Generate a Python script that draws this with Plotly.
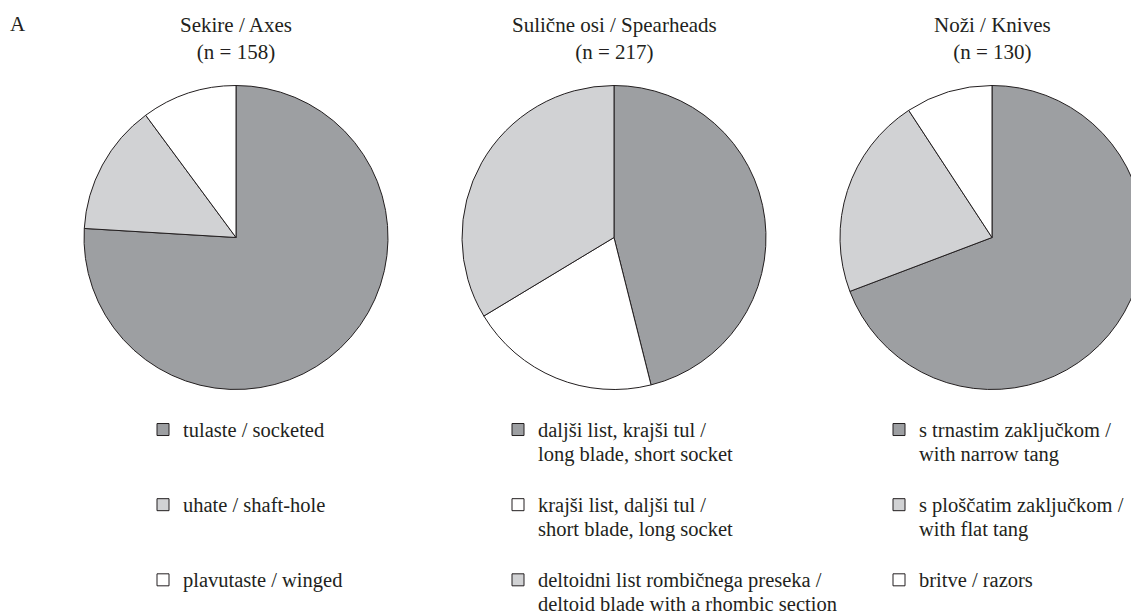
import plotly.graph_objects as go

# Counts (clockwise from 12 o'clock)
axes_labels = ["tulaste / socketed", "uhate / shaft-hole", "plavutaste / winged"]
axes_counts = [120, 22, 16]

spear_labels = [
    "daljši list, krajši tul /<br>long blade, short socket",
    "krajši list, daljši tul /<br>short blade, long socket",
    "deltoidni list rombičnega preseka /<br>deltoid blade with a rhombic section",
]
spear_counts = [100, 44, 73]

knife_labels = [
    "s trnastim zaključkom /<br>with narrow tang",
    "s ploščatim zaključkom /<br>with flat tang",
    "britve / razors",
]
knife_counts = [90, 28, 12]

titles = ["Sekire / Axes", "Sulične osi / Spearheads", "Noži / Knives"]

DARK = "#9d9fa2"
LIGHT = "#d1d2d4"
WHITE = "#ffffff"
INK = "#231f20"
FONT = "Liberation Serif"

# The figure is a bit larger than the 1131x614 window: the right-hand pie
# runs off the edge, and the legends get room below so plotly does not
# shrink the plot area to make them fit.
W, H = 1160, 660


def _legend_text(label, size=20.5, lines=3):
    # each item takes three text lines so the rows are evenly spaced
    parts = label.split("<br>")
    parts = [f"<span style='font-size:{size}px'>{p}</span>" for p in parts]
    parts += ["\u00a0"] * (lines - len(parts))
    return "<br>".join(parts)


pies = [
    (axes_labels, axes_counts, [DARK, LIGHT, WHITE], 236, 143),
    (spear_labels, spear_counts, [DARK, WHITE, LIGHT], 614, 498),
    (knife_labels, knife_counts, [DARK, LIGHT, WHITE], 992, 879),
]
R = 152
CY = 237.5
LEGEND_TOP = 411


def px_x(v):
    return v / W


def px_y(v):
    return 1 - v / H


fig = go.Figure()
layout_legends = {}
for i, (labels, counts, colors, cx, lx) in enumerate(pies):
    name = "legend" if i == 0 else f"legend{i + 1}"
    fig.add_trace(go.Pie(
        labels=[_legend_text(l) for l in labels],
        values=counts,
        sort=False,
        direction="clockwise",
        rotation=0,
        textinfo="none",
        hoverinfo="label+value+percent",
        marker=dict(colors=colors, line=dict(color=INK, width=1)),
        domain=dict(x=[px_x(cx - R), px_x(cx + R)],
                    y=[px_y(CY + R), px_y(CY - R)]),
        legend=name,
    ))
    layout_legends[name] = dict(
        x=px_x(lx), y=px_y(LEGEND_TOP), xanchor="left", yanchor="top",
        valign="top", bgcolor="rgba(0,0,0,0)",
        font=dict(family=FONT, size=18.5, color=INK),
        itemclick=False, itemdoubleclick=False,
    )
    fig.add_annotation(
        x=px_x(cx), y=px_y(38), xref="paper", yref="paper",
        text=f"{titles[i]}<br>(n = {sum(counts)})",
        showarrow=False, xanchor="center", yanchor="middle",
        font=dict(family=FONT, size=21, color=INK),
    )

fig.add_annotation(
    x=px_x(8), y=px_y(24), xref="paper", yref="paper", text="A",
    showarrow=False, xanchor="left", yanchor="middle",
    font=dict(family=FONT, size=21, color=INK),
)

fig.update_layout(
    width=W, height=H,
    margin=dict(l=0, r=0, t=0, b=0),
    paper_bgcolor="white",
    plot_bgcolor="white",
    font=dict(family=FONT, color=INK),
    **layout_legends,
)

fig.write_html(
    "out.html",
    config={"displayModeBar": False},
    post_script="document.body.style.margin='0';document.body.style.overflow='hidden';",
)
